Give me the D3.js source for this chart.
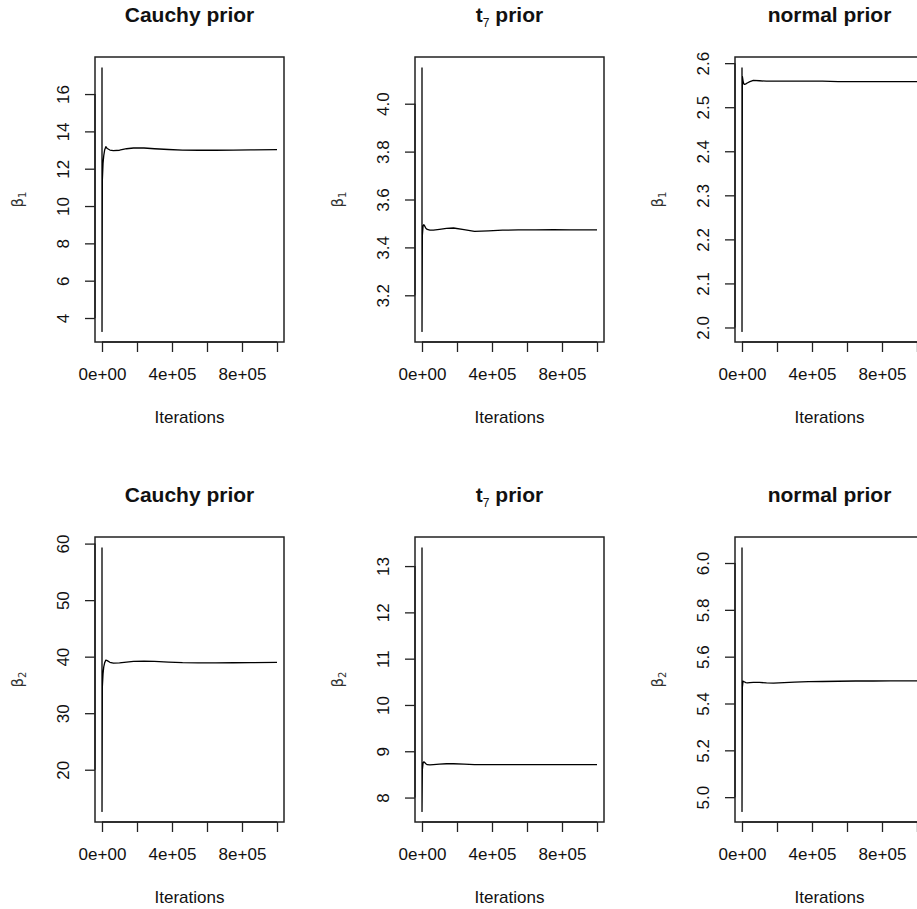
<!DOCTYPE html>
<html>
<head>
<meta charset="utf-8">
<script src="https://cdn.jsdelivr.net/npm/d3@7"></script>
<style>
  html, body { margin: 0; padding: 0; background: #fff; }
  svg { display: block; font-family: "Liberation Sans", Arial, sans-serif; }
</style>
</head>
<body>
<svg id="fig" width="917" height="909"></svg>
<script>
var iterations = [1, 100, 2000, 6000, 10000, 15000, 22000, 30000, 45000, 65000, 100000,
  140000, 180000, 240000, 300000, 380000, 460000, 550000, 650000, 750000, 850000, 1000000];

var cauchyB1 = [17.42, 3.28, 11.4, 12.3, 12.7, 13.0, 13.18, 13.08, 13.0, 12.97, 12.99,
  13.07, 13.11, 13.11, 13.07, 13.03, 13.0, 12.99, 12.99, 13.0, 13.01, 13.02];
var t7B1 = [4.151, 3.049, 3.45, 3.488, 3.495, 3.49, 3.48, 3.475, 3.472, 3.472, 3.475,
  3.479, 3.481, 3.474, 3.467, 3.469, 3.472, 3.473, 3.473, 3.474, 3.473, 3.473];
var normalB1 = [2.590, 1.991, 2.57, 2.56, 2.553, 2.552, 2.553, 2.555, 2.558, 2.561, 2.560,
  2.559, 2.559, 2.559, 2.559, 2.559, 2.559, 2.558, 2.558, 2.558, 2.558, 2.558];
var cauchyB2 = [59.3, 12.62, 34.7, 37.0, 38.2, 38.9, 39.4, 39.3, 39.0, 38.85, 38.9,
  39.05, 39.15, 39.2, 39.15, 39.05, 38.95, 38.9, 38.9, 38.92, 38.95, 38.98];
var t7B2 = [13.40, 7.70, 8.6, 8.74, 8.77, 8.76, 8.73, 8.71, 8.705, 8.71, 8.72,
  8.73, 8.73, 8.72, 8.71, 8.712, 8.712, 8.713, 8.713, 8.713, 8.713, 8.713];
var normalB2 = [6.066, 4.939, 5.47, 5.495, 5.494, 5.492, 5.489, 5.488, 5.489, 5.490, 5.490,
  5.488, 5.487, 5.489, 5.491, 5.493, 5.494, 5.495, 5.496, 5.496, 5.497, 5.497];

var xTicks = [0, 200000, 400000, 600000, 800000, 1000000];
var xTickLabels = ["0e+00", "", "4e+05", "", "8e+05", ""];

var yTicksCauchyB1 = [4, 6, 8, 10, 12, 14, 16];
var yTicksT7B1 = [3.2, 3.4, 3.6, 3.8, 4.0];
var yTicksNormalB1 = [2.0, 2.1, 2.2, 2.3, 2.4, 2.5, 2.6];
var yTicksCauchyB2 = [20, 30, 40, 50, 60];
var yTicksT7B2 = [8, 9, 10, 11, 12, 13];
var yTicksNormalB2 = [5.0, 5.2, 5.4, 5.6, 5.8, 6.0];

var titleMain = ["Cauchy", "t", "normal"];
var titleSub = ["", "7", ""];
var paramSub = ["1", "2"];

var panels = [
  {row: 0, col: 0, values: cauchyB1, ticks: yTicksCauchyB1, fmt: "d"},
  {row: 0, col: 1, values: t7B1, ticks: yTicksT7B1, fmt: ".1f"},
  {row: 0, col: 2, values: normalB1, ticks: yTicksNormalB1, fmt: ".1f"},
  {row: 1, col: 0, values: cauchyB2, ticks: yTicksCauchyB2, fmt: "d"},
  {row: 1, col: 1, values: t7B2, ticks: yTicksT7B2, fmt: "d"},
  {row: 1, col: 2, values: normalB2, ticks: yTicksNormalB2, fmt: ".1f"}
];

var cellW = 320, cellH = 480;
var boxL = 95, boxT = 57, boxW = 189, boxH = 285;

var svg = d3.select("#fig");
svg.append("rect").attr("width", 917).attr("height", 909).attr("fill", "#fff");

// R pads the data range by 4% on each side
function pad(ext) {
  var d = (ext[1] - ext[0]) * 0.04;
  return [ext[0] - d, ext[1] + d];
}

panels.forEach(function(p) {
  var left = boxL + p.col * cellW;
  var top = boxT + p.row * cellH;

  var x = d3.scaleLinear()
      .domain(pad(d3.extent(iterations)))
      .range([left, left + boxW]);
  var y = d3.scaleLinear()
      .domain(pad(d3.extent(p.values)))
      .range([top + boxH, top]);

  var g = svg.append("g");

  // running mean line
  var line = d3.line()
      .x(function(d, i) { return x(iterations[i]); })
      .y(function(d) { return y(d); });
  g.append("path")
      .datum(p.values)
      .attr("fill", "none")
      .attr("stroke", "#000")
      .attr("stroke-width", 1.3)
      .attr("stroke-linejoin", "round")
      .attr("d", line);

  // box
  g.append("rect")
      .attr("x", left)
      .attr("y", top)
      .attr("width", boxW)
      .attr("height", boxH)
      .attr("fill", "none")
      .attr("stroke", "#222")
      .attr("stroke-width", 1.5);

  // x axis
  var xa = g.append("g")
      .attr("transform", "translate(0," + (top + boxH) + ")")
      .call(d3.axisBottom(x)
        .tickValues(xTicks)
        .tickSize(10)
        .tickPadding(16)
        .tickFormat(function(d, i) { return xTickLabels[i]; }));
  xa.select(".domain").remove();
  xa.append("line")
      .attr("x1", x(xTicks[0]))
      .attr("x2", x(xTicks[xTicks.length - 1]))
      .attr("stroke", "#222")
      .attr("stroke-width", 1.5);
  xa.selectAll(".tick line").attr("stroke", "#222").attr("stroke-width", 1.3);
  xa.selectAll(".tick text")
      .attr("fill", "#111")
      .style("font-family", "'Liberation Sans', Arial, sans-serif")
      .style("font-size", "17px");

  // y axis, labels parallel to the axis as in R
  var ya = g.append("g")
      .attr("transform", "translate(" + left + ",0)")
      .call(d3.axisLeft(y)
        .tickValues(p.ticks)
        .tickSize(10)
        .tickFormat(d3.format(p.fmt)));
  ya.select(".domain").remove();
  ya.append("line")
      .attr("y1", y(p.ticks[0]))
      .attr("y2", y(p.ticks[p.ticks.length - 1]))
      .attr("stroke", "#222")
      .attr("stroke-width", 1.5);
  ya.selectAll(".tick line").attr("stroke", "#222").attr("stroke-width", 1.3);
  ya.selectAll(".tick text")
      .attr("x", 0)
      .attr("y", -26)
      .attr("dy", 0)
      .attr("transform", "rotate(-90)")
      .attr("text-anchor", "middle")
      .attr("fill", "#111")
      .style("font-family", "'Liberation Sans', Arial, sans-serif")
      .style("font-size", "17px");

  // title
  var t = g.append("text")
      .attr("x", left + boxW / 2)
      .attr("y", 21.7 + p.row * cellH)
      .attr("text-anchor", "middle")
      .attr("font-weight", "bold")
      .attr("font-size", 21)
      .attr("fill", "#111");
  t.append("tspan").text(titleMain[p.col]);
  if (titleSub[p.col]) {
    t.append("tspan")
        .attr("font-size", 12)
        .attr("font-weight", "normal")
        .attr("dy", 5)
        .text(titleSub[p.col]);
    t.append("tspan").attr("dy", -5).text("\u00a0prior");
  } else {
    t.append("tspan").text(" prior");
  }

  // x label
  g.append("text")
      .attr("x", left + boxW / 2)
      .attr("y", top + boxH + 80.7)
      .attr("text-anchor", "middle")
      .attr("font-size", 17)
      .attr("fill", "#111")
      .text("Iterations");

  // y label: beta with subscript
  var yl = g.append("text")
      .attr("transform", "translate(" + (left - 72) + "," + (top + boxH / 2) + ") rotate(-90)")
      .attr("text-anchor", "middle")
      .attr("font-size", 15)
      .attr("fill", "#333")
      .style("font-family", "'DejaVu Sans', sans-serif");
  yl.append("tspan").text("\u03b2");
  yl.append("tspan")
      .attr("font-size", 10)
      .attr("dy", 3)
      .text(paramSub[p.row]);
});
</script>
</body>
</html>
